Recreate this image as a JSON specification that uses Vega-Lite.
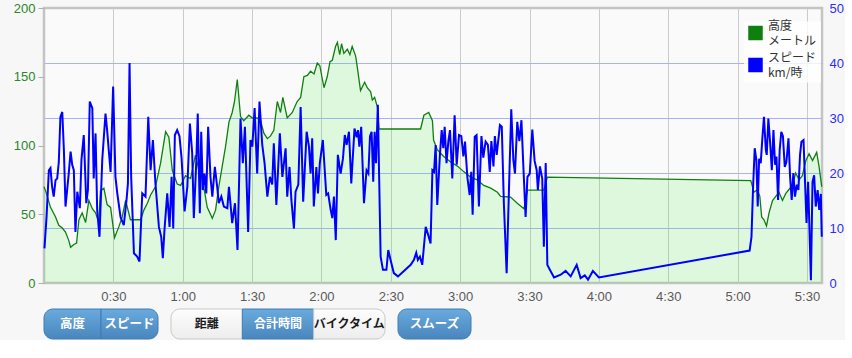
{
  "$schema": "https://vega.github.io/schema/vega-lite/v6.json",
  "background": "#f7f7f7",
  "padding": {"left": 9, "top": 0, "right": 0, "bottom": 0},
  "config": {"font": "Liberation Sans", "view": {"stroke": null}},
  "datasets": {
    "alt": [
      {"t":0,"v":70},{"t":1.1,"v":65},{"t":2.8,"v":55},{"t":5.0,"v":48},{"t":6.4,"v":42},{"t":7.9,"v":40},{"t":9.3,"v":37},{"t":10.7,"v":31},{"t":11.5,"v":26},{"t":12.9,"v":28},{"t":14.1,"v":29},{"t":15.1,"v":46},{"t":16.5,"v":51},{"t":18.0,"v":44},{"t":19.4,"v":60},{"t":20.9,"v":54},{"t":22.3,"v":51},{"t":23.7,"v":44},{"t":24.4,"v":67},{"t":25.9,"v":69},{"t":27.3,"v":57},{"t":28.8,"v":55},{"t":30.5,"v":33},{"t":32.4,"v":41},{"t":33.8,"v":48},{"t":35.3,"v":60},{"t":37.4,"v":46},{"t":41.8,"v":46},{"t":43.2,"v":53},{"t":44.7,"v":58},{"t":46.1,"v":64},{"t":48.2,"v":70},{"t":50.4,"v":87},{"t":52.6,"v":110},{"t":54.0,"v":106},{"t":55.5,"v":82},{"t":57.6,"v":72},{"t":59.1,"v":71},{"t":61.2,"v":78},{"t":63.4,"v":76},{"t":65.5,"v":93},{"t":67.0,"v":82},{"t":68.4,"v":77},{"t":70.6,"v":55},{"t":72.8,"v":47},{"t":74.2,"v":53},{"t":75.6,"v":70},{"t":77.1,"v":85},{"t":78.5,"v":99},{"t":80.0,"v":117},{"t":81.4,"v":124},{"t":82.4,"v":132},{"t":83.6,"v":148},{"t":85.0,"v":121},{"t":86.4,"v":118},{"t":88.6,"v":122},{"t":90.1,"v":120},{"t":92.2,"v":120},{"t":93.7,"v":118},{"t":95.1,"v":109},{"t":96.6,"v":105},{"t":98.0,"v":107},{"t":99.4,"v":111},{"t":100.9,"v":132},{"t":102.3,"v":124},{"t":103.3,"v":135},{"t":105.2,"v":120},{"t":107.4,"v":124},{"t":109.5,"v":132},{"t":111.0,"v":135},{"t":112.4,"v":150},{"t":113.9,"v":151},{"t":115.3,"v":154},{"t":116.8,"v":152},{"t":118.2,"v":160},{"t":119.3,"v":158},{"t":121.1,"v":142},{"t":122.5,"v":150},{"t":123.7,"v":161},{"t":124.7,"v":162},{"t":126.1,"v":172},{"t":126.9,"v":175},{"t":127.9,"v":166},{"t":128.7,"v":174},{"t":129.7,"v":167},{"t":131.2,"v":170},{"t":132.3,"v":166},{"t":133.3,"v":172},{"t":134.8,"v":165},{"t":135.5,"v":157},{"t":136.9,"v":140},{"t":138.7,"v":146},{"t":139.8,"v":142},{"t":141.3,"v":139},{"t":142.0,"v":133},{"t":143.0,"v":135},{"t":144.2,"v":128},{"t":144.9,"v":112},{"t":162.9,"v":112},{"t":164.3,"v":122},{"t":166.4,"v":124},{"t":168.0,"v":118},{"t":168.5,"v":104},{"t":170.1,"v":97},{"t":172.9,"v":92},{"t":175.9,"v":88},{"t":178.8,"v":85},{"t":181.5,"v":81},{"t":184.5,"v":77},{"t":187.4,"v":75},{"t":190.2,"v":71},{"t":193.2,"v":69},{"t":196.1,"v":66},{"t":197.5,"v":63},{"t":201.8,"v":62.5},{"t":204.7,"v":58},{"t":207.6,"v":54},{"t":209.1,"v":67.6},{"t":216.2,"v":67.6},{"t":217.7,"v":77},{"t":305.7,"v":74.5},{"t":307.1,"v":66},{"t":308.6,"v":68},{"t":309.6,"v":63},{"t":310.4,"v":48},{"t":311.4,"v":46},{"t":312.5,"v":41.5},{"t":313.6,"v":51},{"t":315.1,"v":60},{"t":316.5,"v":63},{"t":317.9,"v":66},{"t":319.4,"v":60},{"t":320.8,"v":65},{"t":322.2,"v":68},{"t":323.7,"v":71},{"t":325.1,"v":80},{"t":326.6,"v":75},{"t":328.0,"v":78},{"t":329.5,"v":89},{"t":330.9,"v":94},{"t":332.4,"v":89},{"t":334.2,"v":95},{"t":335.2,"v":85},{"t":336.4,"v":70}
    ],
    "spd": [
      {"t":0.2,"v":6.3},{"t":1.1,"v":12},{"t":2.1,"v":20.5},{"t":2.8,"v":20.9},{"t":3.5,"v":17.5},{"t":4.2,"v":15.7},{"t":5.0,"v":18.7},{"t":5.7,"v":19},{"t":6.4,"v":22},{"t":7.1,"v":30.2},{"t":7.9,"v":31.1},{"t":8.6,"v":24.2},{"t":9.3,"v":13.9},{"t":10.0,"v":16.9},{"t":10.7,"v":19.9},{"t":11.5,"v":23.9},{"t":12.2,"v":21.5},{"t":12.9,"v":20.5},{"t":13.6,"v":9.3},{"t":14.4,"v":16.6},{"t":15.5,"v":13.6},{"t":16.2,"v":22.4},{"t":17.2,"v":26.9},{"t":18.3,"v":14.5},{"t":19.0,"v":16.9},{"t":19.8,"v":33},{"t":20.9,"v":31.8},{"t":21.5,"v":19},{"t":22.3,"v":27.2},{"t":23.0,"v":13.3},{"t":24.0,"v":8.4},{"t":25.2,"v":22.4},{"t":26.6,"v":30.8},{"t":27.3,"v":27.8},{"t":28.0,"v":24.2},{"t":28.8,"v":20.2},{"t":29.9,"v":35.7},{"t":30.9,"v":19.3},{"t":31.7,"v":16.3},{"t":33.1,"v":12},{"t":34.5,"v":10.5},{"t":35.7,"v":15.1},{"t":36.3,"v":18.1},{"t":37.0,"v":40},{"t":37.7,"v":19.3},{"t":38.9,"v":5.4},{"t":40.3,"v":4.8},{"t":41.3,"v":3.9},{"t":42.5,"v":16.3},{"t":43.9,"v":15.7},{"t":45.1,"v":30.2},{"t":46.1,"v":20.5},{"t":47.1,"v":26},{"t":48.2,"v":18.1},{"t":49.7,"v":10.2},{"t":50.7,"v":8.4},{"t":51.4,"v":4.5},{"t":52.1,"v":9.6},{"t":53.3,"v":16.3},{"t":54.3,"v":10.2},{"t":55.2,"v":19.3},{"t":55.9,"v":9.9},{"t":56.6,"v":26.9},{"t":57.6,"v":27.8},{"t":58.6,"v":26.7},{"t":59.5,"v":22.7},{"t":60.8,"v":13},{"t":62.0,"v":17.5},{"t":63.1,"v":29},{"t":64.1,"v":23.6},{"t":64.8,"v":11.8},{"t":65.9,"v":22.4},{"t":66.5,"v":30.8},{"t":67.4,"v":12.7},{"t":68.0,"v":27.5},{"t":68.7,"v":16.9},{"t":69.4,"v":19.9},{"t":70.2,"v":16.3},{"t":71.0,"v":28.4},{"t":72.0,"v":19.3},{"t":72.8,"v":15.7},{"t":73.9,"v":21.1},{"t":74.9,"v":17.5},{"t":75.6,"v":14.5},{"t":76.7,"v":15.7},{"t":77.8,"v":13.9},{"t":79.3,"v":13.6},{"t":80.0,"v":17.5},{"t":81.4,"v":10.9},{"t":82.6,"v":14.5},{"t":83.7,"v":6},{"t":85.0,"v":29.9},{"t":86.0,"v":21.8},{"t":86.9,"v":28.4},{"t":88.3,"v":9.3},{"t":89.3,"v":26},{"t":90.1,"v":24.8},{"t":91.1,"v":31.8},{"t":92.2,"v":19.9},{"t":93.2,"v":33},{"t":94.4,"v":25.1},{"t":95.4,"v":21.8},{"t":96.6,"v":15.7},{"t":97.7,"v":19.3},{"t":98.7,"v":17.9},{"t":99.4,"v":25.4},{"t":100.5,"v":14.2},{"t":102.0,"v":27.2},{"t":103.1,"v":19.3},{"t":104.5,"v":24.5},{"t":105.2,"v":15.7},{"t":106.2,"v":21.1},{"t":107.0,"v":15.1},{"t":108.1,"v":9.9},{"t":108.8,"v":16.6},{"t":110.0,"v":17.9},{"t":111.0,"v":32},{"t":112.1,"v":14.8},{"t":113.6,"v":27.5},{"t":114.6,"v":24.8},{"t":115.3,"v":19.9},{"t":116.0,"v":26.3},{"t":116.7,"v":13.9},{"t":117.8,"v":21.1},{"t":118.5,"v":16.3},{"t":119.3,"v":21.8},{"t":120.6,"v":26},{"t":122.1,"v":16},{"t":122.9,"v":16.3},{"t":124.0,"v":13.3},{"t":124.7,"v":11.8},{"t":125.4,"v":15.7},{"t":126.2,"v":7.8},{"t":127.1,"v":23.3},{"t":128.3,"v":19.9},{"t":129.3,"v":22.6},{"t":130.1,"v":26.9},{"t":130.9,"v":25.1},{"t":131.9,"v":27.5},{"t":132.9,"v":18.1},{"t":134.3,"v":28.1},{"t":135.2,"v":26.5},{"t":135.8,"v":27.8},{"t":136.4,"v":24.8},{"t":137.2,"v":28.4},{"t":138.4,"v":14.5},{"t":139.5,"v":20.5},{"t":140.3,"v":19.9},{"t":141.0,"v":26.7},{"t":141.7,"v":27.5},{"t":142.4,"v":18.4},{"t":143.0,"v":27.5},{"t":143.6,"v":21.8},{"t":144.4,"v":32.4},{"t":144.9,"v":20.5},{"t":145.6,"v":4.8},{"t":146.6,"v":2.4},{"t":148.1,"v":2.4},{"t":148.9,"v":6},{"t":149.9,"v":4.2},{"t":151.3,"v":1.8},{"t":153.1,"v":1.2},{"t":158.6,"v":3.3},{"t":160.0,"v":4.2},{"t":161.0,"v":5.5},{"t":161.7,"v":4.2},{"t":162.6,"v":4.8},{"t":163.6,"v":3.3},{"t":165.1,"v":10.2},{"t":166.2,"v":8.7},{"t":167.2,"v":7.2},{"t":168.0,"v":20.5},{"t":168.7,"v":20.2},{"t":169.4,"v":25.1},{"t":170.1,"v":14.2},{"t":171.2,"v":23},{"t":172.0,"v":27.8},{"t":172.7,"v":24.5},{"t":173.3,"v":28.4},{"t":174.1,"v":21.8},{"t":174.9,"v":25.8},{"t":175.6,"v":27.8},{"t":176.6,"v":19},{"t":177.6,"v":30.5},{"t":178.5,"v":21.5},{"t":179.5,"v":26.9},{"t":180.5,"v":26.7},{"t":181.4,"v":23},{"t":182.1,"v":25.7},{"t":183.1,"v":19.3},{"t":184.1,"v":16},{"t":184.8,"v":20.2},{"t":185.4,"v":12.4},{"t":186.3,"v":26.6},{"t":187.1,"v":26.9},{"t":188.1,"v":13.9},{"t":189.2,"v":26.7},{"t":190.0,"v":22.8},{"t":191.0,"v":25.7},{"t":192.0,"v":25.1},{"t":192.8,"v":20.2},{"t":193.5,"v":25.8},{"t":194.4,"v":21.2},{"t":195.0,"v":26.7},{"t":195.8,"v":23.3},{"t":197.2,"v":28.7},{"t":198.0,"v":28.4},{"t":198.9,"v":14.5},{"t":200.1,"v":1.8},{"t":201.1,"v":16.9},{"t":202.1,"v":31.6},{"t":203.0,"v":22.4},{"t":203.7,"v":19.9},{"t":204.7,"v":29.3},{"t":205.6,"v":25.8},{"t":206.5,"v":29.6},{"t":207.3,"v":21.5},{"t":208.3,"v":12},{"t":209.1,"v":19.3},{"t":210.1,"v":19.9},{"t":211.2,"v":27.9},{"t":212.2,"v":22.2},{"t":213.1,"v":20.5},{"t":213.6,"v":16.9},{"t":214.5,"v":21.2},{"t":215.5,"v":19},{"t":216.2,"v":6.6},{"t":217.0,"v":21.8},{"t":217.7,"v":3.3},{"t":218.8,"v":2.4},{"t":220.6,"v":1},{"t":223.5,"v":1.5},{"t":225.6,"v":2.2},{"t":227.8,"v":1.2},{"t":230.4,"v":3.3},{"t":232.1,"v":0.9},{"t":233.9,"v":1.4},{"t":235.3,"v":0.6},{"t":237.4,"v":2.2},{"t":240.0,"v":1},{"t":305.2,"v":5.9},{"t":306.0,"v":8.4},{"t":306.7,"v":17.5},{"t":307.4,"v":24.5},{"t":308.1,"v":22.4},{"t":308.7,"v":13.9},{"t":309.3,"v":22.6},{"t":310.0,"v":21.8},{"t":310.7,"v":26.3},{"t":311.4,"v":30.2},{"t":312.2,"v":24.2},{"t":312.6,"v":23.3},{"t":313.3,"v":29.9},{"t":314.0,"v":25.9},{"t":314.8,"v":20.5},{"t":315.5,"v":27.8},{"t":316.2,"v":21.5},{"t":316.8,"v":23},{"t":317.5,"v":15.1},{"t":318.2,"v":24.2},{"t":318.9,"v":27.5},{"t":319.6,"v":26.7},{"t":320.4,"v":21.1},{"t":321.1,"v":22},{"t":322.0,"v":26.3},{"t":322.7,"v":19.3},{"t":323.4,"v":15.1},{"t":324.1,"v":20},{"t":324.8,"v":15.7},{"t":325.6,"v":17.9},{"t":326.3,"v":16.9},{"t":327.0,"v":23.3},{"t":327.6,"v":25.7},{"t":328.5,"v":26},{"t":329.2,"v":18},{"t":329.8,"v":10.9},{"t":330.5,"v":18.4},{"t":331.7,"v":0.5},{"t":332.4,"v":18.4},{"t":333.1,"v":19.6},{"t":333.8,"v":13.9},{"t":334.6,"v":16.9},{"t":335.3,"v":13.3},{"t":336.0,"v":16.2},{"t":336.4,"v":8.4}
    ]
  },
  "spacing": 3,
  "columns": 1,
  "concat": [
    {
      "width": 778,
      "height": 275,
      "view": {"fill": "#fafafa", "stroke": "#c4c4c4", "strokeWidth": 2.5},
      "layer": [
        {
          "data": {"name": "alt"},
          "layer": [
            {
              "mark": {"type": "area", "color": "#2af02a", "fillOpacity": 0.13},
              "encoding": {
                "x": {"field": "t", "type": "quantitative", "scale": {"domain": [0, 336.5], "nice": false, "zero": false},
                  "axis": {"title": null, "values": [30,60,90,120,150,180,210,240,270,300,330],
                    "labelExpr": "floor(datum.value/60) + ':' + (datum.value % 60 == 0 ? '00' : '30')",
                    "grid": true, "gridColor": "#cbcbcb", "gridWidth": 1, "ticks": false, "tickSize": 0, "domain": false,
                    "labelPadding": 7, "labelFontSize": 13, "labelColor": "#5a5a5a", "labelFont": "Liberation Sans"}},
                "y": {"field": "v", "type": "quantitative", "scale": {"domain": [0, 200], "nice": false},
                  "axis": {"title": null, "orient": "left", "values": [0,50,100,150,200], "grid": false, "domain": false,
                    "ticks": true, "tickSize": 6, "tickColor": "#b0b0b0", "labelPadding": 3, "labelFontSize": 13,
                    "labelColor": "#2a862a", "minExtent": 33, "maxExtent": 33}}
              }
            },
            {
              "mark": {"type": "line", "strokeWidth": 1.3},
              "encoding": {
                "x": {"field": "t", "type": "quantitative"},
                "y": {"field": "v", "type": "quantitative"},
                "color": {"datum": "高度", "type": "nominal",
                  "scale": {"domain": ["高度", "スピード"], "range": ["#0f7f0f", "#0000ff"]},
                  "legend": {"title": null, "orient": "none", "legendX": 700, "legendY": 13.5,
                    "symbolType": "square", "symbolSize": 169, "labelFontSize": 12, "labelColor": "#333333",
                    "labelFont": "Noto Sans CJK JP", "labelOffset": 5, "rowPadding": 5, "padding": 4,
                    "fillColor": "rgba(255,255,255,0.8)",
                    "labelExpr": "datum.label == '高度' ? ['高度', 'メートル'] : ['スピード', 'km/時']",
                    "encode": {
                      "symbols": {"update": {"fill": {"scale": "color", "field": "value"}, "fillOpacity": {"value": 1}, "stroke": {"value": "#bbbbbb"}, "strokeWidth": {"value": 1.5}, "opacity": {"value": 1}}},
                      "labels": {"update": {"lineHeight": {"value": 15}, "dy": {"value": -7.5}}}
                    }}
                }
              }
            }
          ]
        },
        {
          "data": {"name": "spd"},
          "mark": {"type": "line", "strokeWidth": 2},
          "encoding": {
            "x": {"field": "t", "type": "quantitative"},
            "y": {"field": "v", "type": "quantitative", "scale": {"domain": [0, 50], "nice": false},
              "axis": {"title": null, "orient": "right", "values": [0,10,20,30,40,50], "grid": true,
                "gridColor": {"condition": {"test": "datum.value == 0 || datum.value == 50", "value": "transparent"}, "value": "#aab0ff"},
                "domain": false, "ticks": false, "labelPadding": 7, "labelFontSize": 13, "labelColor": "#2b2bff"}},
            "color": {"datum": "スピード", "type": "nominal"}
          }
        }
      ],
      "resolve": {"scale": {"y": "independent"}}
    },
    {
      "spacing": 11,
      "hconcat": [
        {
          "width": 114,
          "height": 30,
          "view": {"stroke": null, "fill": null},
          "data": {"values": [{"label": "高度", "state": "on"}, {"label": "スピード", "state": "on"}]},
          "encoding": {
            "x": {"field": "label", "type": "nominal", "sort": null, "axis": null, "scale": {"paddingInner": 0, "paddingOuter": 0}}
          },
          "layer": [
            {
              "mark": {"type": "bar", "strokeWidth": 1,
                "cornerRadiusTopLeft": {"expr": "datum.label == '高度' ? 9 : 0"},
                "cornerRadiusBottomLeft": {"expr": "datum.label == '高度' ? 9 : 0"},
                "cornerRadiusTopRight": {"expr": "datum.label == 'スピード' ? 9 : 0"},
                "cornerRadiusBottomRight": {"expr": "datum.label == 'スピード' ? 9 : 0"}},
              "encoding": {
                "fill": {"condition": {"test": "datum.state == 'on'", "value": {"gradient": "linear", "x1": 0, "y1": 0, "x2": 0, "y2": 1, "stops": [{"offset": 0, "color": "#6aaadd"}, {"offset": 1, "color": "#4886bd"}]}}, "value": {"gradient": "linear", "x1": 0, "y1": 0, "x2": 0, "y2": 1, "stops": [{"offset": 0, "color": "#fdfdfd"}, {"offset": 1, "color": "#ededed"}]}},
                "stroke": {"condition": {"test": "datum.state == 'on'", "value": "#3f7db3"}, "value": "#c9c9c9"}
              }
            },
            {
              "mark": {"type": "text", "font": "Noto Sans CJK JP", "fontWeight": "bold", "fontSize": 12.5},
              "encoding": {
                "text": {"field": "label"},
                "fill": {"condition": {"test": "datum.state == 'on'", "value": "#ffffff"}, "value": "#1b1b1b"}
              }
            }
          ]
        },
        {
          "width": 214,
          "height": 30,
          "view": {"stroke": null, "fill": null},
          "data": {"values": [{"label": "距離", "state": "off"}, {"label": "合計時間", "state": "on"}, {"label": "バイクタイム", "state": "off"}]},
          "encoding": {
            "x": {"field": "label", "type": "nominal", "sort": null, "axis": null, "scale": {"paddingInner": 0, "paddingOuter": 0}}
          },
          "layer": [
            {
              "mark": {"type": "bar", "strokeWidth": 1,
                "cornerRadiusTopLeft": {"expr": "datum.label == '距離' ? 9 : 0"},
                "cornerRadiusBottomLeft": {"expr": "datum.label == '距離' ? 9 : 0"},
                "cornerRadiusTopRight": {"expr": "datum.label == 'バイクタイム' ? 9 : 0"},
                "cornerRadiusBottomRight": {"expr": "datum.label == 'バイクタイム' ? 9 : 0"}},
              "encoding": {
                "fill": {"condition": {"test": "datum.state == 'on'", "value": {"gradient": "linear", "x1": 0, "y1": 0, "x2": 0, "y2": 1, "stops": [{"offset": 0, "color": "#6aaadd"}, {"offset": 1, "color": "#4886bd"}]}}, "value": {"gradient": "linear", "x1": 0, "y1": 0, "x2": 0, "y2": 1, "stops": [{"offset": 0, "color": "#fdfdfd"}, {"offset": 1, "color": "#ededed"}]}},
                "stroke": {"condition": {"test": "datum.state == 'on'", "value": "#3f7db3"}, "value": "#c9c9c9"}
              }
            },
            {
              "mark": {"type": "text", "font": "Noto Sans CJK JP", "fontWeight": "bold", "fontSize": 12},
              "encoding": {
                "text": {"field": "label"},
                "fill": {"condition": {"test": "datum.state == 'on'", "value": "#ffffff"}, "value": "#1b1b1b"}
              }
            }
          ]
        },
        {
          "width": 73,
          "height": 30,
          "view": {"stroke": null, "fill": null},
          "data": {"values": [{"label": "スムーズ", "state": "on"}]},
          "encoding": {
            "x": {"field": "label", "type": "nominal", "sort": null, "axis": null, "scale": {"paddingInner": 0, "paddingOuter": 0}}
          },
          "layer": [
            {
              "mark": {"type": "bar", "strokeWidth": 1, "cornerRadius": 9},
              "encoding": {
                "fill": {"condition": {"test": "datum.state == 'on'", "value": {"gradient": "linear", "x1": 0, "y1": 0, "x2": 0, "y2": 1, "stops": [{"offset": 0, "color": "#6aaadd"}, {"offset": 1, "color": "#4886bd"}]}}, "value": "#f9f9f9"},
                "stroke": {"condition": {"test": "datum.state == 'on'", "value": "#3f7db3"}, "value": "#c9c9c9"}
              }
            },
            {
              "mark": {"type": "text", "font": "Noto Sans CJK JP", "fontWeight": "bold", "fontSize": 12.5},
              "encoding": {
                "text": {"field": "label"},
                "fill": {"condition": {"test": "datum.state == 'on'", "value": "#ffffff"}, "value": "#1b1b1b"}
              }
            }
          ]
        }
      ]
    }
  ]
}
